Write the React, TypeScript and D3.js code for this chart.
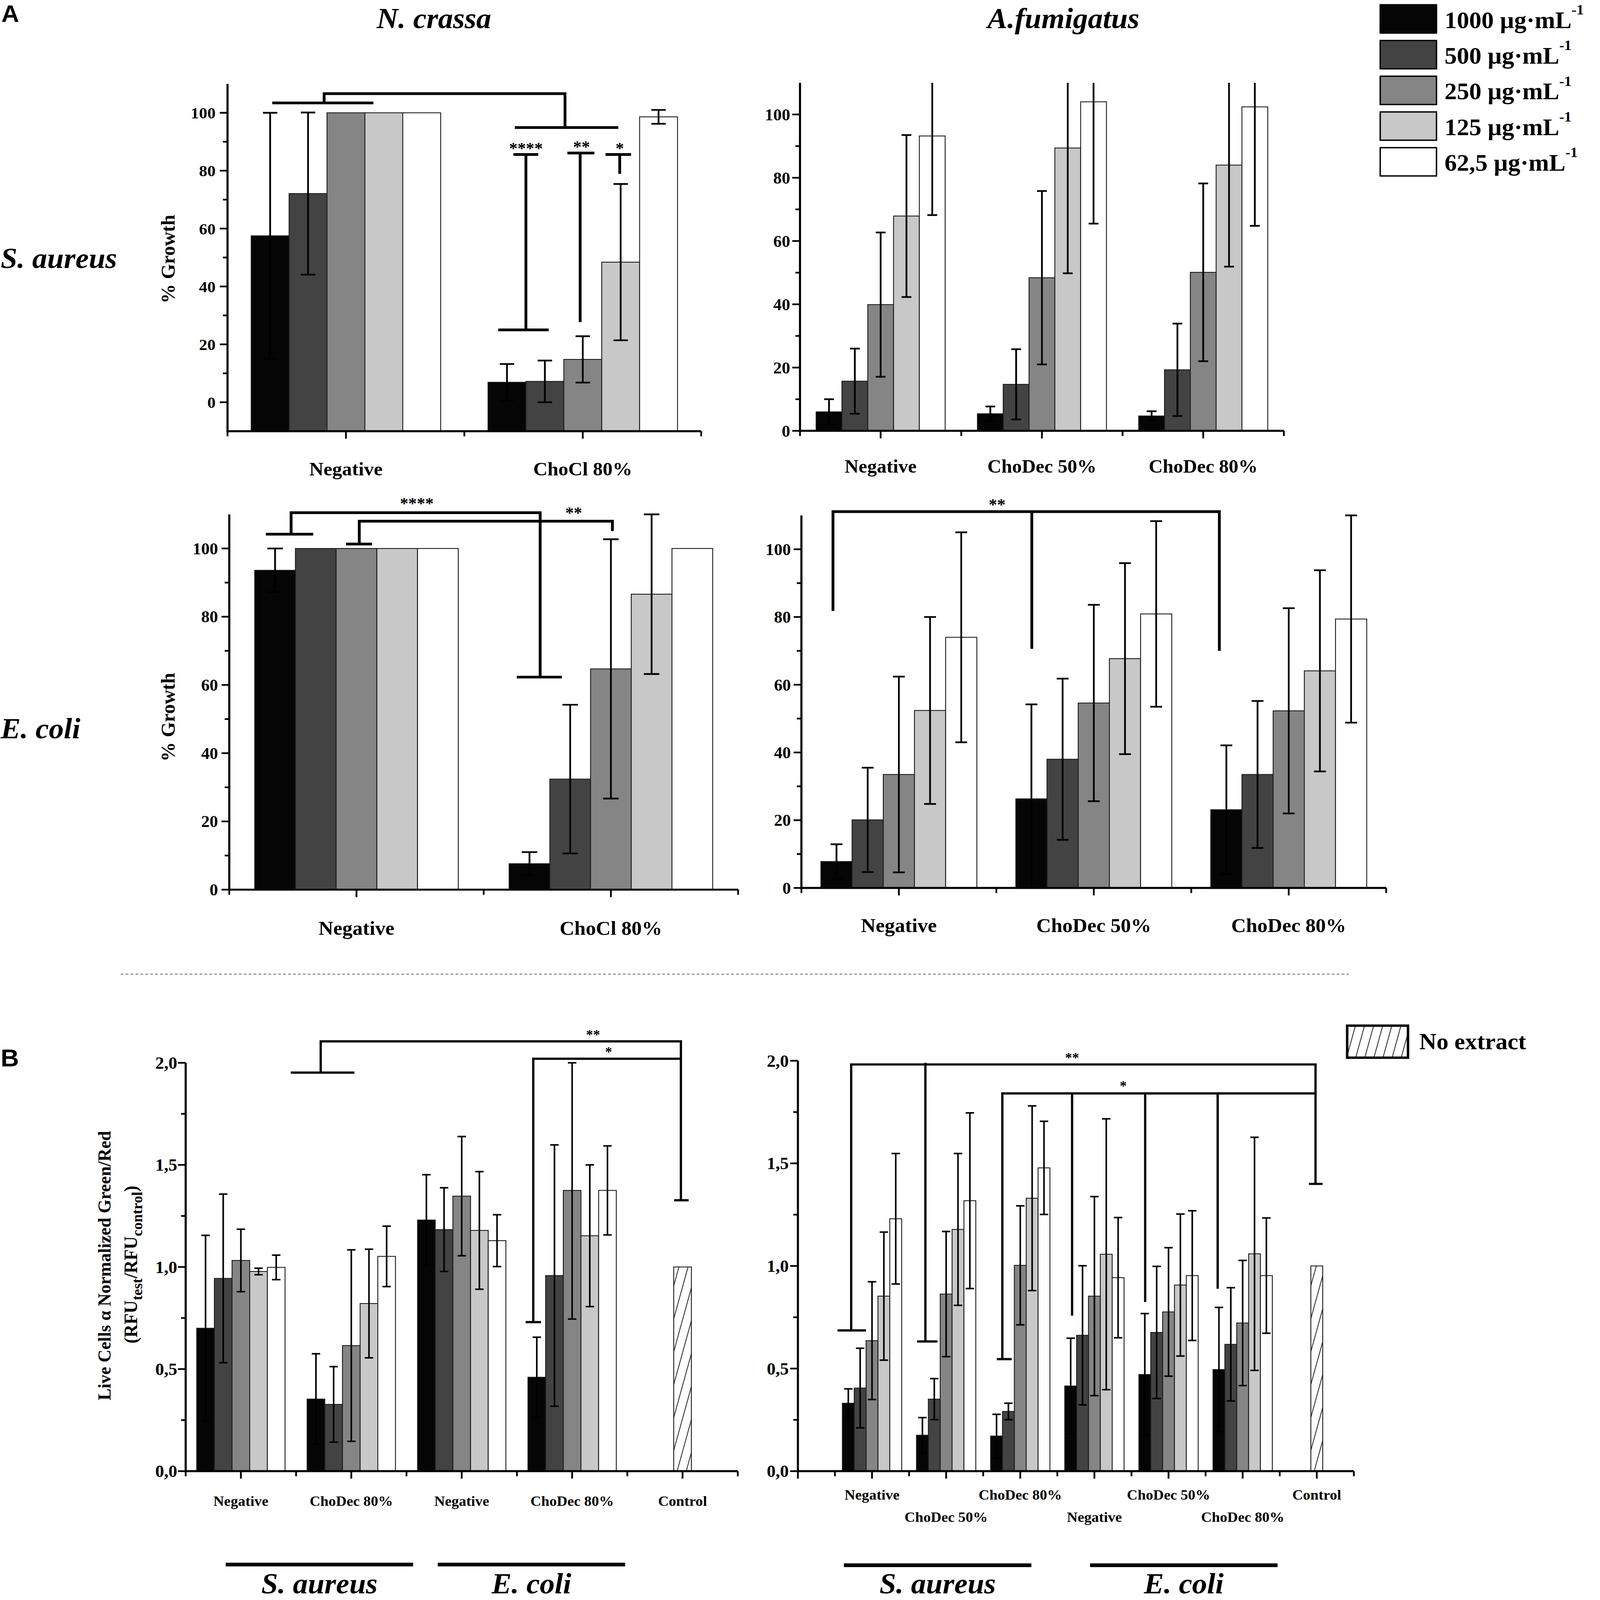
import React from "react";
import * as d3 from "d3";

// ---------------- DATA ----------------
const concLabels = ["1000", "500", "250", "125", "62,5"];
const barFills = ["#050505", "#434343", "#858585", "#c8c8c8", "#ffffff"];

const ncSaCats = ["Negative", "ChoCl 80%"];
const ncSaVals = [
  [57.5, 72.1, 100, 100, 100],
  [6.9, 7.2, 14.8, 48.4, 98.6],
];
const ncSaErr = [
  [42.5, 28, 0, 0, 0],
  [6.3, 7.2, 8, 27, 2.4],
];

const afSaCats = ["Negative", "ChoDec 50%", "ChoDec 80%"];
const afSaVals = [
  [6.0, 15.7, 39.9, 67.9, 93.2],
  [5.4, 14.7, 48.4, 89.4, 104.0],
  [4.7, 19.3, 50.1, 84.0, 102.4],
];
const afSaErr = [
  [4.0, 10.3, 22.8, 25.6, 25.0],
  [2.3, 11.1, 27.4, 39.6, 38.5],
  [1.5, 14.6, 28.1, 32.1, 37.6],
];

const ncEcCats = ["Negative", "ChoCl 80%"];
const ncEcVals = [
  [93.6, 100, 100, 100, 100],
  [7.6, 32.4, 64.7, 86.6, 100],
];
const ncEcErr = [
  [6.4, 0, 0, 0, 0],
  [3.4, 21.8, 38, 23.4, 0],
];

const afEcCats = ["Negative", "ChoDec 50%", "ChoDec 80%"];
const afEcVals = [
  [7.8, 20.1, 33.5, 52.4, 74.0],
  [26.3, 38.0, 54.6, 67.7, 80.9],
  [23.1, 33.5, 52.3, 64.1, 79.4],
];
const afEcErr = [
  [5.1, 15.4, 28.9, 27.6, 31.0],
  [27.9, 23.8, 29.0, 28.2, 27.4],
  [19.0, 21.7, 30.3, 29.7, 30.6],
];

const bLeftCats = ["Negative", "ChoDec 80%", "Negative", "ChoDec 80%", "Control"];
const bLeftVals = [
  [0.7, 0.944, 1.032, 0.978, 0.998],
  [0.353, 0.327, 0.615, 0.821, 1.052],
  [1.23, 1.183, 1.347, 1.179, 1.129],
  [0.46, 0.958, 1.375, 1.153, 1.375],
];
const bLeftErr = [
  [0.455, 0.413, 0.153, 0.016, 0.06],
  [0.222, 0.185, 0.469, 0.266, 0.148],
  [0.222, 0.205, 0.292, 0.288, 0.127],
  [0.196, 0.64, 0.63, 0.347, 0.218],
];

const bRightCats = ["Negative", "ChoDec 50%", "ChoDec 80%", "Negative", "ChoDec 50%", "ChoDec 80%", "Control"];
const bRightRows = [0, 1, 0, 1, 0, 1, 0];
const bRightVals = [
  [0.331, 0.405, 0.636, 0.853, 1.23],
  [0.175, 0.351, 0.863, 1.178, 1.318],
  [0.171, 0.291, 1.003, 1.33, 1.478],
  [0.415, 0.662, 0.853, 1.057, 0.943],
  [0.471, 0.676, 0.776, 0.907, 0.953],
  [0.495, 0.618, 0.722, 1.059, 0.953],
];
const bRightErr = [
  [0.07, 0.194, 0.287, 0.312, 0.318],
  [0.086, 0.1, 0.305, 0.37, 0.428],
  [0.106, 0.04, 0.29, 0.45, 0.227],
  [0.233, 0.339, 0.485, 0.66, 0.293],
  [0.297, 0.322, 0.313, 0.346, 0.316],
  [0.303, 0.276, 0.305, 0.568, 0.281],
];
const controlValue = 1.0;

const growthMajor = [0, 20, 40, 60, 80, 100];
const growthMinor = [10, 30, 50, 70, 90];
const ratioMajor = [0, 0.5, 1.0, 1.5, 2.0];
const ratioMinor = [0.25, 0.75, 1.25, 1.75];

const ncSaBrackets: [number, number][][] = [
  [[-0.311, 103.4], [0.116, 103.4]],
  [[-0.092, 103.4], [-0.092, 106.6], [0.925, 106.6], [0.925, 94.9]],
  [[0.713, 94.9], [1.15, 94.9]],
  [[0.707, 85.6], [0.812, 85.6]],
  [[0.76, 85.6], [0.76, 25.0]],
  [[0.643, 25.0], [0.856, 25.0]],
  [[0.935, 86.1], [1.049, 86.1]],
  [[0.989, 86.1], [0.989, 27.7]],
  [[1.096, 85.6], [1.204, 85.6]],
  [[1.156, 85.6], [1.156, 78.9]],
];
const ncSaStars = [
  { x: 0.76, y: 85.8, t: "****" },
  { x: 0.995, y: 86.3, t: "**" },
  { x: 1.156, y: 85.8, t: "*" },
];
const ncEcBrackets: [number, number][][] = [
  [[-0.356, 104.2], [-0.17, 104.2]],
  [[-0.257, 104.2], [-0.257, 110.5], [0.722, 110.5], [0.722, 62.3]],
  [[0.63, 62.3], [0.807, 62.3]],
  [[-0.041, 101.3], [0.061, 101.3]],
  [[0.011, 101.3], [0.011, 108.0], [1.006, 108.0], [1.006, 105.1]],
];
const ncEcStars = [
  { x: 0.237, y: 111.6, t: "****" },
  { x: 0.854, y: 108.8, t: "**" },
];
const afEcBrackets: [number, number][][] = [
  [[-0.338, 81.8], [-0.338, 111.1], [1.644, 111.1], [1.644, 70.0]],
  [[0.682, 111.1], [0.682, 70.6]],
];
const afEcStars = [{ x: 0.504, y: 111.5, t: "**" }];
const bLeftBrackets: [number, number][][] = [
  [[0.452, 1.952], [1.028, 1.952]],
  [[0.723, 1.952], [0.723, 2.105], [3.985, 2.105], [3.985, 1.327]],
  [[3.924, 1.327], [4.055, 1.327]],
  [[2.579, 0.73], [2.718, 0.73]],
  [[2.648, 0.73], [2.648, 2.02], [3.985, 2.02]],
];
const bLeftStars = [
  { x: 3.19, y: 2.114, t: "**" },
  { x: 3.33, y: 2.03, t: "*" },
];
const bRightBrackets: [number, number][][] = [
  [[-0.466, 0.686], [-0.081, 0.686]],
  [[-0.281, 0.686], [-0.281, 1.982], [5.983, 1.982], [5.983, 1.4]],
  [[5.894, 1.4], [6.079, 1.4]],
  [[0.609, 0.632], [0.883, 0.632]],
  [[0.72, 0.632], [0.72, 1.99]],
  [[1.684, 0.546], [1.884, 0.546]],
  [[1.758, 0.546], [1.758, 1.841], [5.983, 1.841]],
  [[2.699, 1.841], [2.699, 0.758]],
  [[3.685, 1.841], [3.685, 0.824]],
  [[4.663, 1.841], [4.663, 0.889]],
];
const bRightStars = [
  { x: 2.699, y: 1.992, t: "**" },
  { x: 3.389, y: 1.855, t: "*" },
];

const bLeftGroups = [
  { name: "S. aureus", from: -0.137, to: 1.56 },
  { name: "E. coli", from: 1.783, to: 3.48 },
];
const bRightGroups = [
  { name: "S. aureus", from: -0.379, to: 2.15 },
  { name: "E. coli", from: 2.942, to: 5.471 },
];

// ---------------- STYLE ----------------
const SERIF = "'Liberation Serif', 'Times New Roman', Times, serif";
const SANS = "'Liberation Sans', Arial, Helvetica, sans-serif";

type Star = { x: number; y: number; t: string };
type PanelProps = {
  x0: number;
  x1: number;
  yPix: [number, number];
  yDom: [number, number];
  xDom: [number, number];
  cats: string[];
  vals: number[][];
  errs: number[][];
  control?: { index: number; value: number };
  yMajor: number[];
  yMinor: number[];
  fmt: (v: number) => string;
  tickFont: number;
  tickGap: number;
  labelFont: number;
  labelBaseline: number;
  labelRows?: number[];
  rowGap?: number;
  brackets: [number, number][][];
  stars: Star[];
  bracketW: number;
  starFont: number;
  errW: number;
};

function BarPanel(p: PanelProps) {
  const xs = d3.scaleLinear().domain(p.xDom).range([p.x0, p.x1]);
  const ys = d3.scaleLinear().domain(p.yDom).range(p.yPix);
  const bw = xs(1) - xs(0);
  const barW = bw * 0.16;
  const base = ys(p.yDom[0]);
  const [dmin, dmax] = p.yDom;
  const capHalf = Math.max(12, barW * 0.19);
  const line = d3
    .line<[number, number]>()
    .x((d) => xs(d[0]))
    .y((d) => ys(d[1]));

  const xTicks = d3.range(p.xDom[0], p.xDom[1] + 0.001, 0.5);
  const axisW = 6;

  return (
    <g>
      {p.vals.map((g, i) =>
        g.map((v, j) => {
          const x = xs(i) - 0.4 * bw + j * barW;
          return (
            <rect
              key={`b${i}-${j}`}
              x={x}
              y={ys(v)}
              width={barW}
              height={base - ys(v)}
              fill={barFills[j]}
              stroke="#1a1a1a"
              strokeWidth={2.5}
            />
          );
        })
      )}
      {p.control && (
        <rect
          x={xs(p.control.index) - barW / 2}
          y={ys(p.control.value)}
          width={barW}
          height={base - ys(p.control.value)}
          fill="url(#hatch)"
          stroke="#1a1a1a"
          strokeWidth={2.5}
        />
      )}
      {p.vals.map((g, i) =>
        g.map((v, j) => {
          const e = p.errs[i][j];
          if (!e) return null;
          const cx = xs(i) - 0.4 * bw + (j + 0.5) * barW;
          const hiV = v + e;
          const loV = v - e;
          const hi = Math.min(hiV, dmax);
          const lo = Math.max(loV, dmin);
          const span = dmax - dmin;
          return (
            <g key={`e${i}-${j}`} stroke="#000" strokeWidth={p.errW}>
              <line x1={cx} x2={cx} y1={ys(lo)} y2={ys(hi)} />
              {hiV <= dmax + span * 0.003 && (
                <line x1={cx - capHalf} x2={cx + capHalf} y1={ys(hi)} y2={ys(hi)} />
              )}
              {loV >= dmin && (
                <line x1={cx - capHalf} x2={cx + capHalf} y1={ys(lo)} y2={ys(lo)} />
              )}
            </g>
          );
        })
      )}
      <line x1={p.x0} x2={p.x0} y1={base + axisW / 2} y2={ys(dmax)} stroke="#000" strokeWidth={axisW} />
      <line x1={p.x0 - axisW / 2} x2={p.x1} y1={base} y2={base} stroke="#000" strokeWidth={axisW} />
      {p.yMajor.map((t) => (
        <g key={`ym${t}`}>
          <line x1={p.x0 - 22} x2={p.x0} y1={ys(t)} y2={ys(t)} stroke="#000" strokeWidth={5} />
          <text
            x={p.x0 - p.tickGap}
            y={ys(t)}
            dy="0.35em"
            textAnchor="end"
            fontFamily={SERIF}
            fontWeight="bold"
            fontSize={p.tickFont}
          >
            {p.fmt(t)}
          </text>
        </g>
      ))}
      {p.yMinor.map((t) => (
        <line key={`yn${t}`} x1={p.x0 - 13} x2={p.x0} y1={ys(t)} y2={ys(t)} stroke="#000" strokeWidth={5} />
      ))}
      {xTicks.map((t) => {
        const isCenter = Math.abs(t - Math.round(t)) < 1e-6;
        return (
          <line
            key={`xt${t}`}
            x1={xs(t)}
            x2={xs(t)}
            y1={base}
            y2={base + (isCenter ? 22 : 15)}
            stroke="#000"
            strokeWidth={5}
          />
        );
      })}
      {p.cats.map((c, i) => (
        <text
          key={`xl${i}`}
          x={xs(i)}
          y={p.labelBaseline + (p.labelRows ? p.labelRows[i] * (p.rowGap || 0) : 0)}
          textAnchor="middle"
          fontFamily={SERIF}
          fontWeight="bold"
          fontSize={p.labelFont}
        >
          {c}
        </text>
      ))}
      {p.brackets.map((b, k) => (
        <path
          key={`br${k}`}
          d={line(b) || ""}
          fill="none"
          stroke="#000"
          strokeWidth={p.bracketW}
          strokeLinejoin="miter"
          strokeLinecap="butt"
        />
      ))}
      {p.stars.map((s, k) => (
        <text
          key={`st${k}`}
          x={xs(s.x)}
          y={ys(s.y)}
          textAnchor="middle"
          fontFamily={SERIF}
          fontWeight="bold"
          fontSize={p.starFont}
        >
          {s.t}
        </text>
      ))}
    </g>
  );
}

const fmtInt = (v: number) => d3.format("d")(v);
const fmtComma = (v: number) => d3.format(".1f")(v).replace(".", ",");

export default function App() {
  const legendTop = 14;
  const legendPitch = 104.8;
  const blX = d3.scaleLinear().domain([-0.5, 4.5]).range([528, 2098]);
  const brX = d3.scaleLinear().domain([-1, 6.5]).range([2269, 3850]);

  return (
    <svg
      viewBox="0 0 4550 4694"
      preserveAspectRatio="none"
      style={{ position: "absolute", left: 0, top: 0, width: "100vw", height: "100vh", background: "#fff", display: "block" }}
    >
      <defs>
        <pattern id="hatch" patternUnits="userSpaceOnUse" width={25} height={25} patternTransform="rotate(15)">
          <rect width={25} height={25} fill="#fff" />
          <line x1={2} y1={0} x2={2} y2={25} stroke="#333" strokeWidth={2.5} />
        </pattern>
      </defs>
      <rect x={0} y={0} width={4550} height={4694} fill="#fff" />

      <text x={4} y={64} fontFamily={SANS} fontWeight="bold" fontSize={70}>A</text>
      <text x={2} y={3128} fontFamily={SANS} fontWeight="bold" fontSize={72}>B</text>

      <text x={1234} y={83} textAnchor="middle" fontFamily={SERIF} fontWeight="bold" fontStyle="italic" fontSize={85}>
        N. crassa
      </text>
      <text x={3024} y={83} textAnchor="middle" fontFamily={SERIF} fontWeight="bold" fontStyle="italic" fontSize={85}>
        A.fumigatus
      </text>

      <text x={2} y={786} fontFamily={SERIF} fontWeight="bold" fontStyle="italic" fontSize={85}>
        S. aureus
      </text>
      <text x={2} y={2166} fontFamily={SERIF} fontWeight="bold" fontStyle="italic" fontSize={85}>
        E. coli
      </text>

      <text transform="translate(497,760) rotate(-90)" textAnchor="middle" fontFamily={SERIF} fontWeight="bold" fontSize={57}>
        % Growth
      </text>
      <text transform="translate(497,2104) rotate(-90)" textAnchor="middle" fontFamily={SERIF} fontWeight="bold" fontSize={57}>
        % Growth
      </text>

      {concLabels.map((c, i) => {
        const top = legendTop + i * legendPitch;
        return (
          <g key={`lg${i}`}>
            <rect x={3925} y={top} width={160} height={83} fill={barFills[i]} stroke="#000" strokeWidth={4} />
            <text x={4108} y={top + 68} fontFamily={SERIF} fontWeight="bold" fontSize={70}>
              {c} {"\u00b5g\u00b7mL"}
              <tspan fontSize={42} dy={-40}>-1</tspan>
            </text>
          </g>
        );
      })}

      <BarPanel x0={647} x1={1994} yPix={[1265, 246]} yDom={[-10, 110]} xDom={[-0.5, 1.5]}
        cats={ncSaCats} vals={ncSaVals} errs={ncSaErr} yMajor={growthMajor} yMinor={growthMinor}
        fmt={fmtInt} tickFont={47} tickGap={34} labelFont={56} labelBaseline={1395}
        brackets={ncSaBrackets} stars={ncSaStars} bracketW={8} starFont={48} errW={5} />
      <BarPanel x0={2275} x1={3651} yPix={[1264, 243]} yDom={[0, 110]} xDom={[-0.5, 2.5]}
        cats={afSaCats} vals={afSaVals} errs={afSaErr} yMajor={growthMajor} yMinor={growthMinor}
        fmt={fmtInt} tickFont={48} tickGap={28} labelFont={55} labelBaseline={1387}
        brackets={[]} stars={[]} bracketW={8} starFont={48} errW={5} />
      <BarPanel x0={652} x1={2099} yPix={[2610, 1509]} yDom={[0, 110]} xDom={[-0.5, 1.5]}
        cats={ncEcCats} vals={ncEcVals} errs={ncEcErr} yMajor={growthMajor} yMinor={growthMinor}
        fmt={fmtInt} tickFont={48} tickGap={32} labelFont={58} labelBaseline={2742}
        brackets={ncEcBrackets} stars={ncEcStars} bracketW={8} starFont={48} errW={5} />
      <BarPanel x0={2279} x1={3942} yPix={[2605, 1512]} yDom={[0, 110]} xDom={[-0.5, 2.5]}
        cats={afEcCats} vals={afEcVals} errs={afEcErr} yMajor={growthMajor} yMinor={growthMinor}
        fmt={fmtInt} tickFont={48} tickGap={30} labelFont={58} labelBaseline={2734}
        brackets={afEcBrackets} stars={afEcStars} bracketW={8} starFont={48} errW={5} />

      <line x1={343} x2={3835} y1={2858} y2={2858} stroke="#777" strokeWidth={2.5} strokeDasharray="8 6" />

      <text transform="translate(314,3713) rotate(-90)" textAnchor="middle" fontFamily={SERIF} fontWeight="bold" fontSize={52}>
        Live Cells {"\u03b1"} Normalized Green/Red
      </text>
      <text transform="translate(390,3710) rotate(-90)" textAnchor="middle" fontFamily={SERIF} fontWeight="bold" fontSize={53}>
        (RFU<tspan fontSize={43} dy={14}>test</tspan>
        <tspan dy={-14}>/RFU</tspan>
        <tspan fontSize={43} dy={14}>control</tspan>
        <tspan dy={-14}>)</tspan>
      </text>

      <BarPanel x0={528} x1={2098} yPix={[4316, 3118]} yDom={[0, 2]} xDom={[-0.5, 4.5]}
        cats={bLeftCats} vals={bLeftVals} errs={bLeftErr} control={{ index: 4, value: controlValue }}
        yMajor={ratioMajor} yMinor={ratioMinor} fmt={fmtComma} tickFont={50} tickGap={24} labelFont={42} labelBaseline={4418}
        brackets={bLeftBrackets} stars={bLeftStars} bracketW={6.5} starFont={40} errW={4.5} />
      <BarPanel x0={2269} x1={3850} yPix={[4316, 3112]} yDom={[0, 2]} xDom={[-1, 6.5]}
        cats={bRightCats} vals={bRightVals} errs={bRightErr} control={{ index: 6, value: controlValue }}
        yMajor={ratioMajor} yMinor={ratioMinor} fmt={fmtComma} tickFont={50} tickGap={26} labelFont={42} labelBaseline={4400}
        labelRows={bRightRows} rowGap={65}
        brackets={bRightBrackets} stars={bRightStars} bracketW={6.5} starFont={40} errW={4.5} />

      <rect x={3831} y={3009} width={173} height={94} fill="url(#hatch)" stroke="#000" strokeWidth={7} />
      <text x={4036} y={3078} fontFamily={SERIF} fontWeight="bold" fontSize={68}>
        No extract
      </text>

      {bLeftGroups.map((g, i) => (
        <g key={`blg${i}`}>
          <line x1={blX(g.from)} x2={blX(g.to)} y1={4590} y2={4590} stroke="#000" strokeWidth={11} />
          <text x={blX((g.from + g.to) / 2)} y={4675} textAnchor="middle" fontFamily={SERIF} fontWeight="bold" fontStyle="italic" fontSize={85}>
            {g.name}
          </text>
        </g>
      ))}
      {bRightGroups.map((g, i) => (
        <g key={`brg${i}`}>
          <line x1={brX(g.from)} x2={brX(g.to)} y1={4592} y2={4592} stroke="#000" strokeWidth={11} />
          <text x={brX((g.from + g.to) / 2)} y={4675} textAnchor="middle" fontFamily={SERIF} fontWeight="bold" fontStyle="italic" fontSize={85}>
            {g.name}
          </text>
        </g>
      ))}
    </svg>
  );
}
